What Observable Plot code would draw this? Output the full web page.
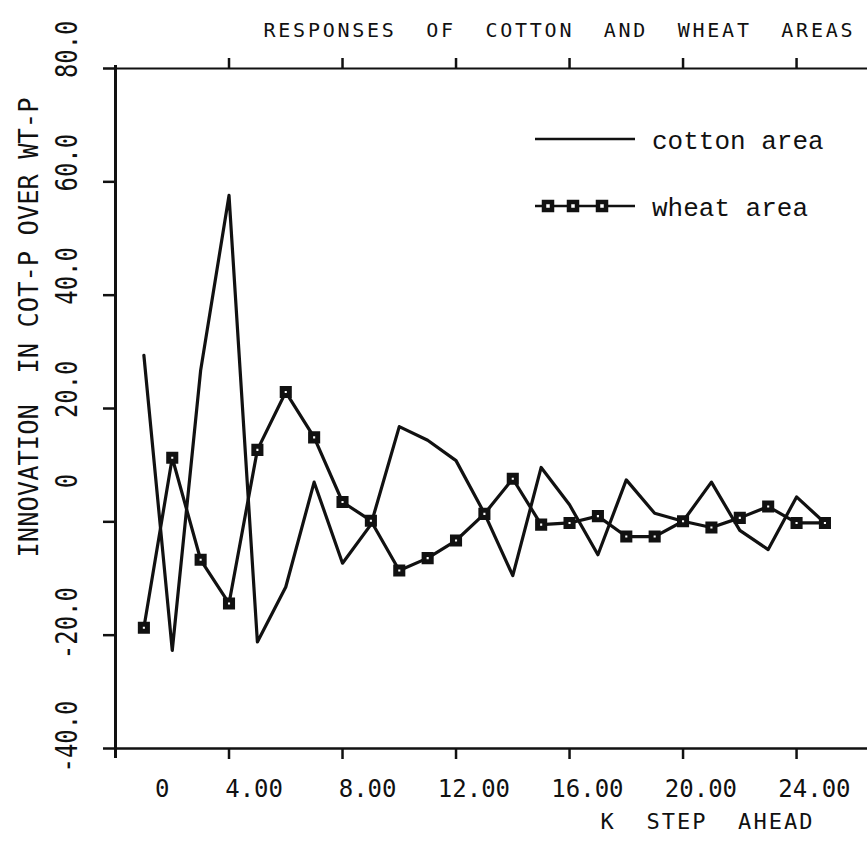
<!DOCTYPE html>
<html><head><meta charset="utf-8">
<script src="https://cdn.jsdelivr.net/npm/d3@7"></script>
<script src="https://cdn.jsdelivr.net/npm/@observablehq/plot@0.6"></script>
<style>
html,body{margin:0;padding:0;background:#fff;}
#chart{position:relative;width:867px;height:844px;}
svg text{white-space:pre;}
</style></head><body><div id="chart"></div>
<script>
const title = "RESPONSES  OF  COTTON  AND  WHEAT  AREAS";
const xLabel = "K  STEP  AHEAD";
const yLabel = "INNOVATION  IN COT-P OVER WT-P";
const seriesNames = ["cotton area", "wheat area"];

const steps = [1,2,3,4,5,6,7,8,9,10,11,12,13,14,15,16,17,18,19,20,21,22,23,24,25];
const cotton = [29.4,-22.7,26.7,57.6,-21.2,-11.5,7.0,-7.3,-0.5,16.8,14.4,10.8,1.5,-9.5,9.6,3.0,-5.8,7.4,1.5,0.1,7.0,-1.5,-4.9,4.4,-0.2];
const wheat = [-18.7,11.3,-6.7,-14.4,12.7,22.9,14.9,3.5,0.2,-8.6,-6.4,-3.3,1.4,7.6,-0.5,-0.2,1.0,-2.6,-2.6,0.1,-1.0,0.7,2.7,-0.2,-0.2];

const xTicks = [0,4,8,12,16,20,24];
const xTickLabels = ["0","4.00","8.00","12.00","16.00","20.00","24.00"];
const yTicks = [-40,-20,0,20,40,60,80];
const yTickLabels = ["-40.0","-20.0","0","20.0","40.0","60.0","80.0"];

const cottonData = steps.map((k, i) => ({k, v: cotton[i]}));
const wheatData = steps.map((k, i) => ({k, v: wheat[i]}));

const ink = "#111";
const mono = "DejaVu Sans Mono, monospace";

const plot = Plot.plot({
  width: 867, height: 844,
  marginTop: 68, marginBottom: 96, marginLeft: 115, marginRight: 0,
  x: {domain: [0, 26.5], axis: null, label: null},
  y: {domain: [-40, 80], axis: null, label: null},
  style: {background: "white", color: ink, overflow: "visible"},
  marks: [
    Plot.ruleX([0], {stroke: ink, strokeWidth: 3, insetTop: -3, insetBottom: -10}),
    Plot.ruleY([80], {stroke: ink, strokeWidth: 2.2}),
    Plot.ruleY([-40], {stroke: ink, strokeWidth: 2.5}),
    Plot.axisY(yTicks, {anchor: "left", tickSize: 12, tickFormat: () => "", label: null, stroke: ink, strokeWidth: 2.5}),
    Plot.axisX(xTicks.filter(d => d > 0), {anchor: "top", tickSize: 11, tickFormat: () => "", label: null, stroke: ink, strokeWidth: 2.5}),
    Plot.axisX(xTicks.filter(d => d > 0), {anchor: "bottom", tickSize: 11, tickFormat: () => "", label: null, stroke: ink, strokeWidth: 2.5}),
    Plot.text(xTicks, {x: d => d, frameAnchor: "bottom", text: (d, i) => xTickLabels[i], textAnchor: "end", dx: 54, dy: 48, fontSize: 24, fontFamily: mono, fill: ink}),
    Plot.text(yTicks, {y: d => d, frameAnchor: "left", text: (d, i) => yTickLabels[i], rotate: -90, textAnchor: "end", dx: -48, dy: -48, fontSize: 30, fontFamily: mono, fill: ink}),
    Plot.line(cottonData, {x: "k", y: "v", stroke: ink, strokeWidth: 3.2}),
    Plot.line(wheatData, {x: "k", y: "v", stroke: ink, strokeWidth: 3.2}),
    Plot.dot(wheatData, {x: "k", y: "v", symbol: "square", r: 4, fill: "white", stroke: ink, strokeWidth: 5}),
    Plot.text([title], {frameAnchor: "top-right", text: d => d, textAnchor: "end", dx: -15, dy: -46, fontSize: 20, fontFamily: mono, fill: ink}),
    Plot.text([xLabel], {frameAnchor: "bottom-right", text: d => d, textAnchor: "end", dx: -55, dy: 80, fontSize: 22, fontFamily: mono, fill: ink}),
    Plot.text([yLabel], {frameAnchor: "left", text: d => d, rotate: -90, textAnchor: "start", dx: -86, dy: 149, fontSize: 27, fontFamily: mono, fill: ink})
  ]
});

const svg = d3.select(plot);
svg.selectAll("text").each(function() {
  const t = this.textContent;
  if (t === title) { this.setAttribute("textLength", 589); this.setAttribute("lengthAdjust", "spacing"); }
  else if (t === xLabel) { this.setAttribute("textLength", 212); this.setAttribute("lengthAdjust", "spacing"); }
  else if (t === yLabel) { this.setAttribute("textLength", 460); this.setAttribute("lengthAdjust", "spacingAndGlyphs"); }
  else if (yTickLabels.includes(t) && this.getAttribute("transform") && this.getAttribute("transform").includes("rotate")) {
    this.setAttribute("textLength", 14.4 * t.length); this.setAttribute("lengthAdjust", "spacingAndGlyphs");
  }
});

// legend
const lg = svg.append("g").attr("font-family", "Liberation Mono, Courier New, monospace").attr("font-size", 26).attr("fill", ink).attr("text-anchor", "start");
lg.append("line").attr("x1", 535).attr("x2", 635).attr("y1", 139).attr("y2", 139).attr("stroke", ink).attr("stroke-width", 2.5);
lg.append("text").attr("x", 652).attr("y", 141).attr("dy", "0.32em").text(seriesNames[0]);
lg.append("line").attr("x1", 535).attr("x2", 635).attr("y1", 206).attr("y2", 206).attr("stroke", ink).attr("stroke-width", 2.5);
[548, 573, 602].forEach(x => lg.append("rect").attr("x", x - 4).attr("y", 202).attr("width", 8).attr("height", 8).attr("fill", "white").attr("stroke", ink).attr("stroke-width", 4.5));
lg.append("text").attr("x", 652).attr("y", 208).attr("dy", "0.32em").text(seriesNames[1]);

document.getElementById("chart").appendChild(plot);
</script>
</body></html>
